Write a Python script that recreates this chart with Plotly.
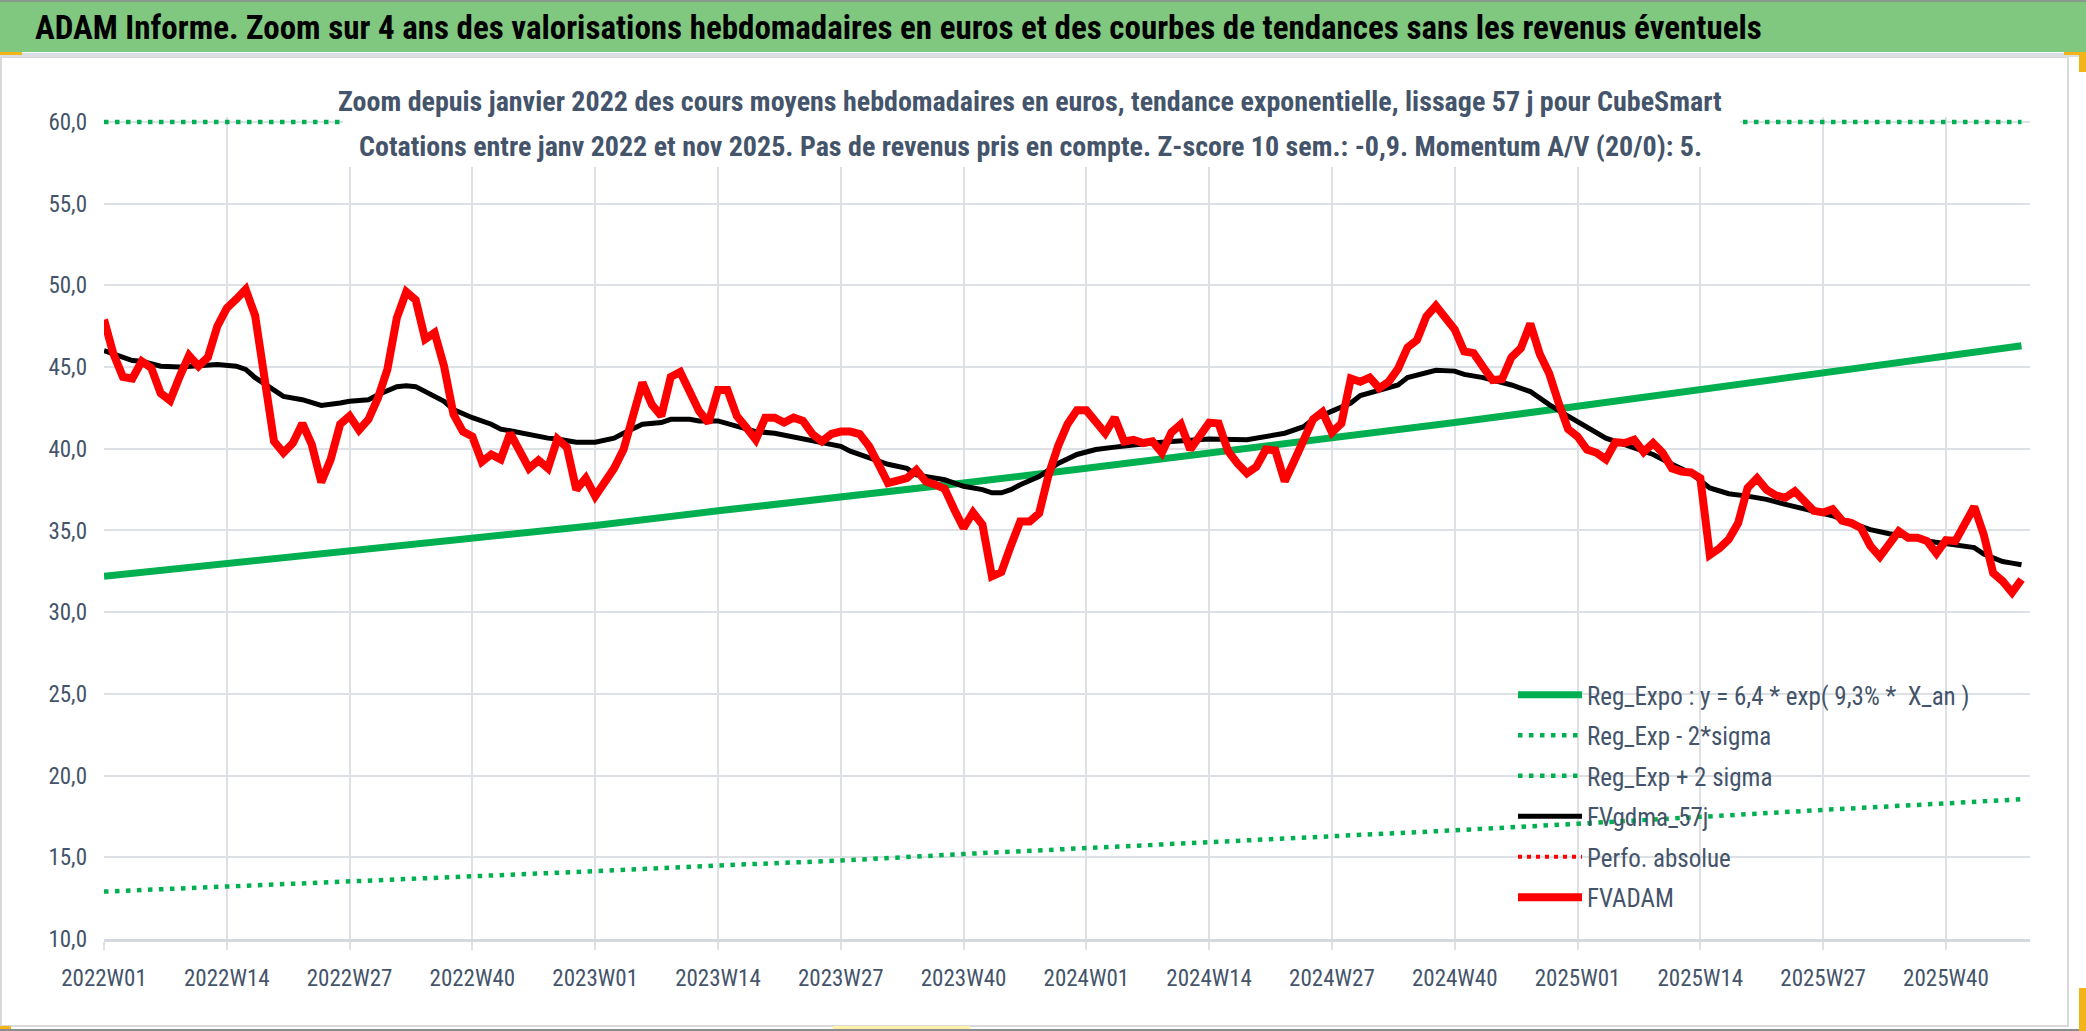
import plotly.graph_objects as go

# weekly categories: 2022W01 .. 2025W48
years = [2022, 2023, 2024, 2025]
weeks = [f"{y}W{w:02d}" for y in years for w in range(1, 53)][:204]
tick_labels = weeks[::13]

# FVADAM, weekly average price in euros
fvadam = [
    47.9, 45.8, 44.4, 44.3, 45.35, 44.95, 43.4, 42.95, 44.4, 45.7, 45.05, 45.6, 47.5,
    48.6, 49.15, 49.75, 48.15, 44.2, 40.45, 39.75, 40.35, 41.55, 40.25, 37.95, 39.35, 41.5,
    42.0, 41.15, 41.8, 43.1, 44.85, 48.0, 49.6, 49.1, 46.7, 47.1, 45.05, 42.1, 41.05,
    40.75, 39.2, 39.65, 39.35, 40.95, 39.75, 38.8, 39.3, 38.8, 40.6, 40.1, 37.5, 38.2,
    37.1, 38.0, 38.8, 39.95, 42.0, 44.05, 42.7, 42.0, 44.4, 44.7, 43.5, 42.3, 41.6,
    43.6, 43.6, 42.0, 41.3, 40.55, 41.9, 41.9, 41.6, 41.9, 41.7, 40.9, 40.45, 40.9,
    41.05, 41.05, 40.9, 40.15, 39.05, 37.9, 38.05, 38.2, 38.7, 38.0, 37.8, 37.55, 36.3,
    35.15, 36.1, 35.35, 32.2, 32.45, 34.05, 35.55, 35.55, 36.05, 38.4, 40.15, 41.5, 42.35,
    42.35, 41.55, 40.95, 41.9, 40.45, 40.55, 40.35, 40.45, 39.75, 41.0, 41.5, 39.95, 40.75,
    41.6, 41.55, 39.85, 39.1, 38.5, 38.9, 39.95, 39.9, 38.0, 39.25, 40.55, 41.8, 42.25,
    41.0, 41.55, 44.3, 44.1, 44.35, 43.7, 44.1, 44.9, 46.2, 46.65, 48.1, 48.75, 48.1,
    47.3, 45.95, 45.85, 45.0, 44.2, 44.25, 45.6, 46.15, 47.65, 45.8, 44.6, 42.8, 41.2,
    40.75, 39.95, 39.75, 39.35, 40.4, 40.35, 40.55, 39.8, 40.35, 39.75, 38.8, 38.6, 38.55,
    38.2, 33.5, 33.9, 34.45, 35.45, 37.6, 38.2, 37.5, 37.15, 37.0, 37.4, 36.8, 36.2,
    36.1, 36.3, 35.6, 35.45, 35.15, 34.05, 33.4, 34.2, 34.95, 34.55, 34.55, 34.35, 33.6,
    34.4, 34.35, 35.4, 36.45, 34.75, 32.4, 31.9, 31.2, 32.0,
]

# FVgdma_57j, smoothed curve, read at these week indices
gdma_idx = [
    0, 2, 3, 4, 6, 8, 10, 12, 14, 15, 16, 18, 19, 21, 23, 25, 26, 28, 29, 31, 32, 33,
    35, 36, 37, 39, 41, 42, 43, 45, 47, 48, 50, 52, 54, 55, 57, 59, 60, 62, 63, 65,
    67, 69, 71, 73, 76, 78, 79, 81, 83, 85, 86, 89, 91, 93, 94, 95, 96, 97, 99, 100,
    101, 103, 105, 107, 109, 111, 113, 115, 117, 121, 123, 125, 127, 128, 130, 132,
    133, 135, 137, 138, 140, 141, 143, 144, 146, 148, 149, 151, 152, 153, 155, 157,
    159, 161, 164, 166, 168, 170, 172, 174, 176, 178, 180, 183, 185, 187, 189, 191,
    193, 196, 198, 199, 201, 202, 203,
]
gdma_vals = [
    46.0, 45.55, 45.4, 45.35, 45.05, 45.0, 45.05, 45.15, 45.05, 44.85, 44.35, 43.6,
    43.2, 43.0, 42.65, 42.8, 42.9, 43.0, 43.3, 43.8, 43.85, 43.8, 43.25, 42.9, 42.4,
    41.9, 41.5, 41.2, 41.1, 40.85, 40.65, 40.6, 40.4, 40.4, 40.65, 40.95, 41.5, 41.6,
    41.8, 41.8, 41.7, 41.7, 41.4, 41.05, 40.95, 40.7, 40.4, 40.15, 39.85, 39.45, 39.05,
    38.8, 38.4, 38.1, 37.7, 37.5, 37.3, 37.3, 37.5, 37.8, 38.3, 38.7, 39.1, 39.65,
    39.95, 40.1, 40.25, 40.35, 40.45, 40.55, 40.6, 40.55, 40.75, 40.95, 41.35, 41.8,
    42.3, 42.8, 43.25, 43.6, 43.9, 44.35, 44.65, 44.8, 44.75, 44.55, 44.35, 44.05,
    43.9, 43.5, 43.1, 42.7, 42.0, 41.3, 40.65, 40.25, 39.65, 39.05, 38.5, 37.6, 37.25,
    37.1, 36.9, 36.6, 36.3, 35.9, 35.45, 35.05, 34.8, 34.65, 34.35, 34.1, 33.95, 33.55,
    33.1, 33.0, 32.9,
]

# regression curves, read every 13 weeks
band_idx = [0, 13, 26, 39, 52, 65, 78, 91, 104, 117, 130, 143, 156, 169, 182, 195, 203]
reg_expo = [32.2, 32.95, 33.7, 34.5, 35.3, 36.2, 37.0, 37.9, 38.8, 39.7, 40.65, 41.6,
            42.6, 43.6, 44.6, 45.6, 46.3]
reg_low = [12.9, 13.2, 13.5, 13.8, 14.15, 14.5, 14.8, 15.2, 15.55, 15.9, 16.3, 16.65,
           17.05, 17.5, 17.9, 18.3, 18.55]
high_idx = [0, 203]
reg_high = [60.0, 60.0]

GREEN = "#00B050"
FONT = "Liberation Sans Narrow, Arial Narrow, Roboto Condensed, Roboto, sans-serif"
TXT = "#44546A"
GRID = "#DDE1E6"

W, H = 2086, 1031
L, R, T, B = 104, 56, 117, 92
PW, PH = W - L - R, H - T - B


def px_x(px):
    return (px - L) / PW


def px_y(py):
    return (H - B - py) / PH


fig = go.Figure()

fig.add_trace(go.Scatter(
    x=[weeks[i] for i in band_idx], y=reg_expo, mode="lines",
    name="Reg_Expo : y = 6,4 * exp( 9,3% *  X_an )", legendgroup="a",
    line=dict(color=GREEN, width=7),
))
fig.add_trace(go.Scatter(
    x=[weeks[i] for i in band_idx], y=reg_low, mode="lines",
    name="Reg_Exp - 2*sigma", legendgroup="b",
    line=dict(color=GREEN, width=4.5, dash="4.5px,6.5px"),
))
fig.add_trace(go.Scatter(
    x=[weeks[i] for i in high_idx], y=reg_high, mode="lines",
    name="Reg_Exp + 2 sigma", legendgroup="c",
    line=dict(color=GREEN, width=4.5, dash="4.5px,6.5px"),
))
fig.add_trace(go.Scatter(
    x=[weeks[i] for i in gdma_idx], y=gdma_vals, mode="lines",
    name="FVgdma_57j", legendgroup="d",
    line=dict(color="black", width=5),
))
fig.add_trace(go.Scatter(
    x=[None], y=[None], mode="lines",
    name="Perfo. absolue", legendgroup="e",
    line=dict(color="#FF0000", width=4, dash="4px,5px"),
))
fig.add_trace(go.Scatter(
    x=weeks, y=fvadam, mode="lines",
    name="FVADAM", legendgroup="f",
    line=dict(color="#FF0000", width=8),
))

shapes = [
    # green banner
    dict(type="rect", xref="paper", yref="paper", x0=px_x(0), x1=px_x(W),
         y0=px_y(52), y1=px_y(0), fillcolor="#80C880", line_width=0, layer="above"),
    dict(type="rect", xref="paper", yref="paper", x0=px_x(0), x1=px_x(W),
         y0=px_y(2), y1=px_y(0), fillcolor="#8A9A8A", line_width=0, layer="above"),
    dict(type="rect", xref="paper", yref="paper", x0=px_x(0), x1=px_x(W),
         y0=px_y(57), y1=px_y(53), fillcolor="#DADDE2", line_width=0, layer="above"),
    # white box behind the chart title
    dict(type="rect", xref="paper", yref="paper", x0=px_x(343), x1=px_x(1740),
         y0=px_y(167), y1=px_y(110), fillcolor="white", line_width=0, layer="above"),
    # chart object border and selection handles
    dict(type="rect", xref="paper", yref="paper", x0=px_x(1), x1=px_x(2068),
         y0=px_y(1026), y1=px_y(57), line=dict(color="#D9D9D9", width=2), layer="below"),
    dict(type="rect", xref="paper", yref="paper", x0=px_x(0), x1=px_x(W),
         y0=px_y(W), y1=px_y(1029), fillcolor="#8C8C8C", line_width=0, layer="above"),
    dict(type="rect", xref="paper", yref="paper", x0=px_x(0), x1=px_x(22),
         y0=px_y(55), y1=px_y(52), fillcolor="#F2B418", line_width=0, layer="above"),
    dict(type="rect", xref="paper", yref="paper", x0=px_x(2064), x1=px_x(2086),
         y0=px_y(55), y1=px_y(52), fillcolor="#F2B418", line_width=0, layer="above"),
    dict(type="rect", xref="paper", yref="paper", x0=px_x(2079), x1=px_x(2086),
         y0=px_y(72), y1=px_y(52), fillcolor="#F2B418", line_width=0, layer="above"),
    dict(type="rect", xref="paper", yref="paper", x0=px_x(2079), x1=px_x(2086),
         y0=px_y(1031), y1=px_y(988), fillcolor="#F2B418", line_width=0, layer="above"),
    dict(type="rect", xref="paper", yref="paper", x0=px_x(0), x1=px_x(11),
         y0=px_y(1029), y1=px_y(1026), fillcolor="#F2B418", line_width=0, layer="above"),
    dict(type="rect", xref="paper", yref="paper", x0=px_x(833), x1=px_x(970),
         y0=px_y(1029), y1=px_y(1026), fillcolor="#FFF2A8", line_width=0, layer="above"),
]

annotations = [
    dict(text="<b>ADAM Informe. Zoom sur 4 ans des valorisations hebdomadaires en euros "
              "et des courbes de tendances sans les revenus éventuels</b>",
         xref="paper", yref="paper", x=px_x(33), y=px_y(27),
         xanchor="left", yanchor="middle", showarrow=False,
         font=dict(family=FONT, size=33, color="black")),
    dict(text="<b>Zoom depuis janvier 2022 des cours moyens hebdomadaires en euros, "
              "tendance exponentielle, lissage 57 j pour CubeSmart</b>",
         xref="paper", yref="paper", x=px_x(1030), y=px_y(101),
         xanchor="center", yanchor="middle", showarrow=False,
         font=dict(family=FONT, size=28, color=TXT)),
    dict(text="<b>Cotations entre janv 2022 et nov 2025. Pas de revenus pris en compte. "
              "Z-score 10 sem.: -0,9. Momentum A/V (20/0): 5.</b>",
         xref="paper", yref="paper", x=px_x(1030), y=px_y(147),
         xanchor="center", yanchor="middle", showarrow=False,
         font=dict(family=FONT, size=28, color=TXT)),
]

fig.update_layout(
    width=W, height=H,
    margin=dict(l=L, r=R, t=T, b=B),
    paper_bgcolor="white", plot_bgcolor="white",
    separators=", ",
    showlegend=True,
    legend=dict(
        x=px_x(1513), y=px_y(672), xanchor="left", yanchor="top",
        bgcolor="rgba(0,0,0,0)", itemwidth=64, tracegroupgap=5,
        font=dict(family=FONT, size=25, color=TXT),
    ),
    shapes=shapes,
    annotations=annotations,
    xaxis=dict(
        type="category", categoryorder="array", categoryarray=weeks,
        range=[0, 203.9], tickvals=tick_labels, ticktext=tick_labels,
        showgrid=True, gridcolor=GRID, gridwidth=2,
        ticks="outside", ticklen=8, tickwidth=2, tickcolor=GRID,
        showline=True, linecolor="#D5D9DF", linewidth=3,
        tickfont=dict(family=FONT, size=23, color=TXT),
        ticklabelstandoff=8, zeroline=False,
    ),
    yaxis=dict(
        range=[10, 60.3], tickvals=[10, 15, 20, 25, 30, 35, 40, 45, 50, 55, 60],
        tickformat=".1f", showgrid=True, gridcolor=GRID, gridwidth=2,
        ticks="", ticklabelstandoff=16, zeroline=False,
        tickfont=dict(family=FONT, size=23, color=TXT),
    ),
)

fig.write_html(
    "out.html",
    config={"displayModeBar": False},
    post_script="document.body.style.margin='0';document.body.style.overflow='hidden';",
)
